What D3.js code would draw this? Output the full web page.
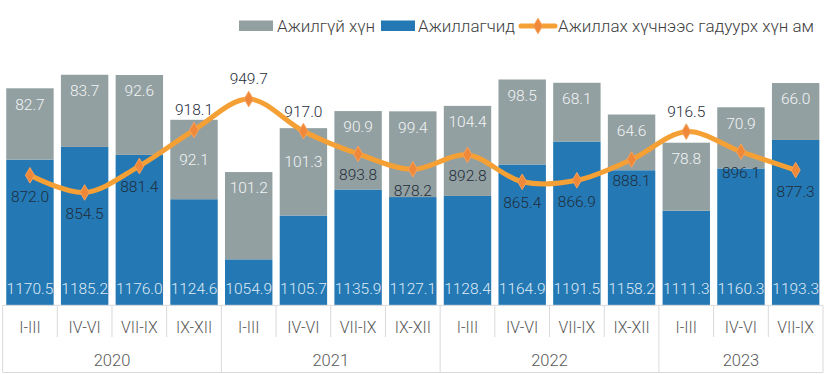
<!DOCTYPE html>
<html>
<head>
<meta charset="utf-8">
<script src="https://cdn.jsdelivr.net/npm/d3@7"></script>
<style>
  body { margin: 0; background: #fff; }
  text { font-family: Roboto, "Noto Sans", sans-serif; font-weight: 300; }
</style>
</head>
<body>
<div id="chart"></div>
<script>
var quarters = ["I-III","IV-VI","VII-IX","IX-XII","I-III","IV-VI","VII-IX","IX-XII","I-III","IV-VI","VII-IX","IX-XII","I-III","IV-VI","VII-IX"];
var years = ["2020","2020","2020","2020","2021","2021","2021","2021","2022","2022","2022","2022","2023","2023","2023"];
var employed = [1170.5,1185.2,1176.0,1124.6,1054.9,1105.7,1135.9,1127.1,1128.4,1164.9,1191.5,1158.2,1111.3,1160.3,1193.3];
var unemployed = [82.7,83.7,92.6,92.1,101.2,101.3,90.9,99.4,104.4,98.5,68.1,64.6,78.8,70.9,66.0];
var outside = [872.0,854.5,881.4,918.1,949.7,917.0,893.8,878.2,892.8,865.4,866.9,888.1,916.5,896.1,877.3];

var seriesNames = ["Ажилгүй хүн", "Ажиллагчид", "Ажиллах хүчнээс гадуурх хүн ам"];

var W = 825, H = 374;
var grayCol = "#93a0a2", blueCol = "#2479b5", lineCol = "#f5a035", markCol = "#f0883a";

var svg = d3.select("#chart").append("svg")
    .attr("width", W).attr("height", H);

var idx = d3.range(quarters.length);
var x = d3.scaleBand().domain(idx).range([2.6, 823]).paddingInner(0.133).paddingOuter(0.0665);
var y = d3.scaleLinear().domain([1001.6, 1303.4]).range([305.3, 45]);
var y2 = d3.scaleLinear().domain([739.5, 1004.8]).range([305.3, 45]);
var base = y.range()[0];
var cx = function(i) { return x(i) + x.bandwidth() / 2; };

// bars
var g = svg.append("g");
g.selectAll(".emp").data(idx).enter().append("rect")
    .attr("x", function(i) { return x(i); })
    .attr("width", x.bandwidth())
    .attr("y", function(i) { return y(employed[i]); })
    .attr("height", function(i) { return base - y(employed[i]); })
    .attr("fill", blueCol);
g.selectAll(".unemp").data(idx).enter().append("rect")
    .attr("x", function(i) { return x(i); })
    .attr("width", x.bandwidth())
    .attr("y", function(i) { return y(employed[i] + unemployed[i]); })
    .attr("height", function(i) { return y(employed[i]) - y(employed[i] + unemployed[i]); })
    .attr("fill", grayCol);

// line
var line = d3.line()
    .x(cx)
    .y(function(i) { return y2(outside[i]); })
    .curve(d3.curveCatmullRom.alpha(0.5));
g.append("path").datum(idx)
    .attr("d", line)
    .attr("fill", "none")
    .attr("stroke", lineCol)
    .attr("stroke-width", 5)
    .attr("stroke-linecap", "round");

var diamond = d3.symbol().type(d3.symbolDiamond).size(70);
g.selectAll(".mk").data(idx).enter().append("path")
    .attr("d", diamond)
    .attr("transform", function(i) { return "translate(" + cx(i) + "," + y2(outside[i]) + ")"; })
    .attr("fill", markCol)
    .attr("stroke", "#f7a15a")
    .attr("stroke-width", 1);

// bar labels
g.selectAll(".empl").data(idx).enter().append("text")
    .attr("x", cx)
    .attr("y", base - 17)
    .attr("dy", "0.35em")
    .attr("text-anchor", "middle")
    .attr("font-size", "15.5px")
    .attr("fill", "#dfe9f4")
    .text(function(i) { return employed[i].toFixed(1); });
g.selectAll(".unempl").data(idx).enter().append("text")
    .attr("x", cx)
    .attr("y", function(i) {
        var ly = y(employed[i] + unemployed[i]) + 16;
        var py = y2(outside[i]);
        // move label off the line when they collide
        if (Math.abs(ly - py) < 14) ly = py + 30;
        return ly;
    })
    .attr("dy", "0.35em")
    .attr("text-anchor", "middle")
    .attr("font-size", "15.5px")
    .attr("fill", "#f2f4f4")
    .text(function(i) { return unemployed[i].toFixed(1); });

g.selectAll(".ol").data(idx).enter().append("text")
    .attr("x", cx)
    .attr("y", function(i) { return y2(outside[i]) + (outside[i] > 910 ? -20 : 21); })
    .attr("dy", "0.35em")
    .attr("text-anchor", "middle")
    .attr("font-size", "15.5px")
    .attr("fill", "#1f2d3a")
    .text(function(i) { return outside[i].toFixed(1); });

// category axis
var axisCol = "#d9d9d9";
var ax = svg.append("g");
ax.append("line").attr("x1", 2.6).attr("x2", 823).attr("y1", base).attr("y2", base).attr("stroke", axisCol);
ax.append("line").attr("x1", 2.6).attr("x2", 823).attr("y1", 372.5).attr("y2", 372.5).attr("stroke", axisCol);
var step = x.step(), x0 = x.range()[0];
idx.forEach(function(i) {
    if (i == 0) return;
    var xe = x0 + i * step;
    var yearBreak = years[i] != years[i - 1];
    ax.append("line").attr("x1", xe).attr("x2", xe).attr("y1", base)
        .attr("y2", yearBreak ? 372.5 : 337).attr("stroke", axisCol);
});
ax.append("line").attr("x1", x0).attr("x2", x0).attr("y1", base).attr("y2", 372.5).attr("stroke", axisCol);
ax.append("line").attr("x1", x.range()[1]).attr("x2", x.range()[1]).attr("y1", base).attr("y2", 372.5).attr("stroke", axisCol);

ax.selectAll(".ql").data(idx).enter().append("text")
    .attr("x", cx)
    .attr("y", 327)
    .attr("dy", "0.35em")
    .attr("text-anchor", "middle")
    .attr("font-size", "15.8px")
    .attr("fill", "#595959")
    .text(function(i) { return quarters[i]; });

var yearList = Array.from(new Set(years));
yearList.forEach(function(yr) {
    var members = idx.filter(function(i) { return years[i] == yr; });
    var xa = x0 + members[0] * step, xb = x0 + (members[members.length - 1] + 1) * step;
    ax.append("text")
        .attr("x", (xa + xb) / 2)
        .attr("y", 360)
        .attr("dy", "0.35em")
        .attr("text-anchor", "middle")
        .attr("font-size", "16.5px")
        .attr("fill", "#595959")
        .text(yr);
});

// legend
var lg = svg.append("g").attr("font-size", "17px");
lg.append("rect").attr("x", 239).attr("y", 20.5).attr("width", 34).attr("height", 10.5).attr("fill", grayCol);
lg.append("text").attr("x", 277).attr("y", 26).attr("dy", "0.35em").attr("fill", "#404040").text(seriesNames[0]);
lg.append("rect").attr("x", 381).attr("y", 20.5).attr("width", 34).attr("height", 10.5).attr("fill", blueCol);
lg.append("text").attr("x", 418).attr("y", 26).attr("dy", "0.35em").attr("fill", "#404040").text(seriesNames[1]);
lg.append("line").attr("x1", 521).attr("x2", 555).attr("y1", 26).attr("y2", 26)
    .attr("stroke", lineCol).attr("stroke-width", 5).attr("stroke-linecap", "round");
lg.append("path").attr("d", diamond).attr("transform", "translate(538,26)")
    .attr("fill", markCol).attr("stroke", "#f7a15a");
lg.append("text").attr("x", 558).attr("y", 26).attr("dy", "0.35em").attr("fill", "#404040").text(seriesNames[2]);
</script>
</body>
</html>
